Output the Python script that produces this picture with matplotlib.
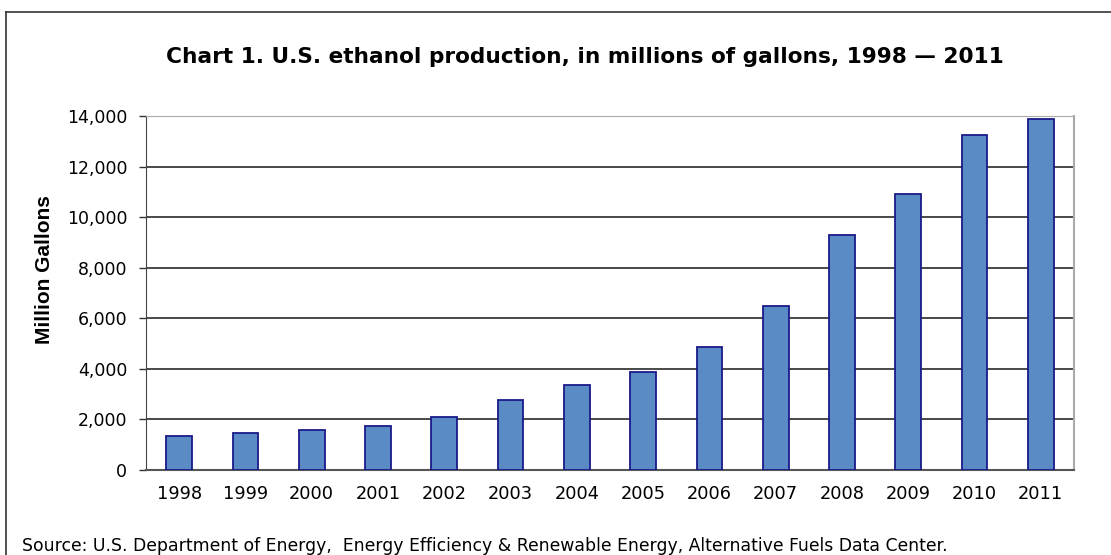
import numpy as np
import matplotlib.pyplot as plt
from matplotlib.lines import Line2D
from matplotlib.ticker import FuncFormatter

plt.rcParams['font.family'] = ['DejaVu Sans']

years = ['1998', '1999', '2000', '2001', '2002', '2003', '2004',
         '2005', '2006', '2007', '2008', '2009', '2010', '2011']
production = [1360, 1450, 1580, 1750, 2100, 2760, 3360,
              3890, 4860, 6500, 9300, 10900, 13260, 13900]
yticks = [0, 2000, 4000, 6000, 8000, 10000, 12000, 14000]

W, H = 1111, 555
fig = plt.figure(figsize=(W / 100, H / 100), dpi=100)
ax = fig.add_axes([146 / W, 1 - 470 / H, (1074 - 146) / W, (470 - 116) / H])

x = np.arange(len(years))
ax.set_axisbelow(True)
ax.yaxis.grid(True, color='#2a2a2a', linewidth=1.2)
ax.bar(x, production, width=0.39, color='#5B8BC4', edgecolor='#1A1A8A', linewidth=1.3, zorder=3)

ax.set_xlim(-0.5, len(years) - 0.5)
ax.set_ylim(0, 14000)
ax.set_yticks(yticks)
ax.yaxis.set_major_formatter(FuncFormatter(lambda v, p: '{:,.0f}'.format(v)))
ax.set_xticks(x)
ax.set_xticklabels(years)
ax.tick_params(axis='x', length=0, pad=11, labelsize=12.8)
ax.tick_params(axis='y', length=5, width=1, color='#333333', direction='out', pad=8.5, labelsize=12.5)

ax.spines['left'].set_color('#444444')
ax.spines['bottom'].set_color('#555555')
ax.spines['bottom'].set_linewidth(1.5)
ax.spines['top'].set_color('#aaaaaa')
ax.spines['right'].set_color('#aaaaaa')
ax.spines['right'].set_linewidth(1.5)

fig.text(44.5 / W, 1 - 270 / H, 'Million Gallons', rotation=90, ha='center', va='center',
         fontsize=15, fontweight='bold', family=['Liberation Sans', 'DejaVu Sans'])

fig.text(585 / W, 1 - 57 / H, 'Chart 1. U.S. ethanol production, in millions of gallons, 1998 \u2014 2011',
         ha='center', va='center', fontsize=15.6, fontweight='bold')
fig.text(22 / W, 1 - 546 / H, 'Source: U.S. Department of Energy,  Energy Efficiency & Renewable Energy, Alternative Fuels Data Center.',
         ha='left', va='center', fontsize=12.4)

# outer frame (left and top edges visible)
fig.add_artist(Line2D([6 / W, 6 / W], [0, 1 - 12 / H], transform=fig.transFigure, color='#333333', linewidth=1.2))
fig.add_artist(Line2D([6 / W, 1.0], [1 - 12 / H, 1 - 12 / H], transform=fig.transFigure, color='#333333', linewidth=1.2))

fig.savefig('out.png', dpi=100)
